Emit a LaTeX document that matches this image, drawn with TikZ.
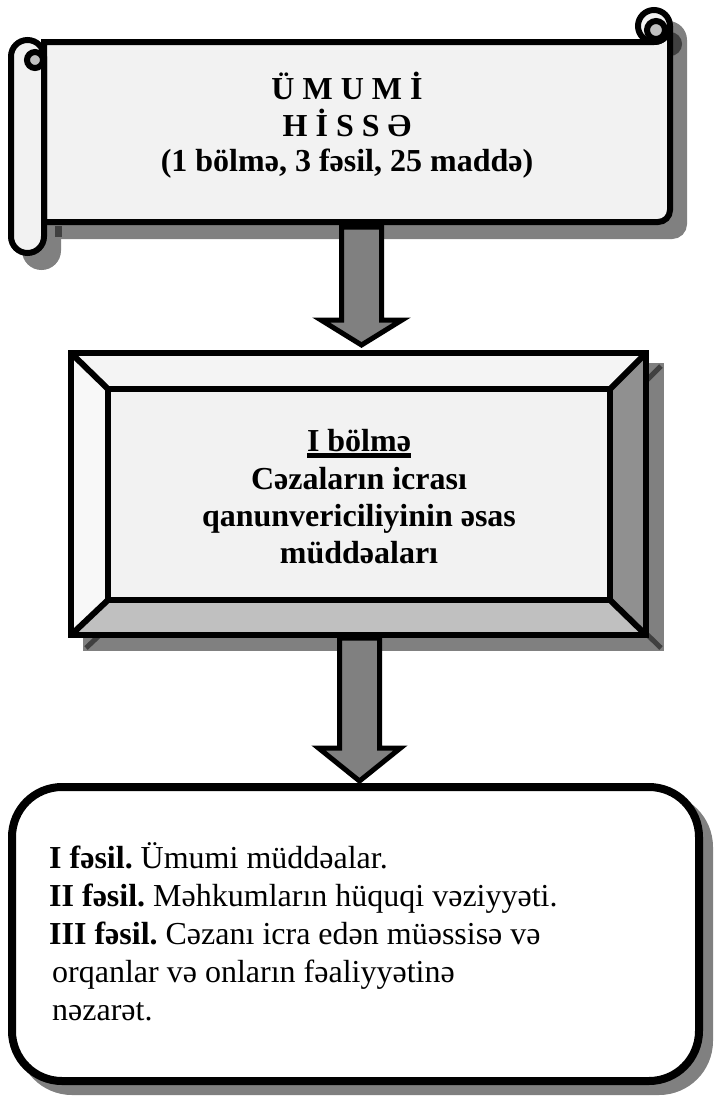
\documentclass[tikz,border=0pt]{standalone}
\usepackage{fontspec}
\setmainfont{Liberation Serif}
\frenchspacing
\definecolor{shade}{HTML}{808080}
\definecolor{paper}{HTML}{F2F2F2}
\definecolor{knob}{HTML}{C0C0C0}
\definecolor{deep}{HTML}{404040}
\definecolor{bevR}{HTML}{909090}
\definecolor{bevB}{HTML}{C0C0C0}
\definecolor{bevL}{HTML}{F8F8F8}
\definecolor{bevT}{HTML}{F4F4F4}
\begin{document}
\begin{tikzpicture}[x=1pt,y=-1pt,line join=miter,
  outl/.style={draw=black,line width=6pt},
  shad/.style={fill=shade,draw=shade,line width=6pt},
  txt/.style={inner sep=0pt,font=\fontsize{32}{38}\selectfont},
  blockarrow/.style={fill=shade,draw=black,line width=5pt,line join=miter}]
\useasboundingbox (0,0) rectangle (715,1096);

% ---------- scroll: shadow ----------
\begin{scope}[shift={(14,14)}]
  \path[shad] (44,42) -- (654,42) arc (90:0:16) -- (670,210) arc (0:90:12) -- (44,222) -- cycle;
  \path[shad] (654,26) circle (16);
  \path[shad,rounded corners=16.5pt] (11,40) rectangle (44,253);
  \path[fill=deep,draw=deep,line width=6pt] (656,30) circle (9);
\end{scope}
\fill[deep] (55,226) rectangle (62,237);

% ---------- scroll ----------
\path[outl,fill=paper] (44,42) -- (654,42) arc (90:0:16) -- (670,210) arc (0:90:12) -- (44,222) -- cycle;
\path[outl,fill=paper] (654,26) circle (16);
\path[outl,fill=knob] (656,30) circle (9);
\path[outl,fill=paper,rounded corners=16.5pt] (11,40) rectangle (44,253);
\path[outl,fill=knob] (35,60) circle (8);
\node[txt,anchor=base] (h1) at (347,99) {\bfseries Ü M U M İ};
\node[txt,anchor=base] (h2) at (347,136) {\bfseries H İ S S Ə};
\node[txt,anchor=base] (h3) at (347,171) {\bfseries (1 bölmə, 3 fəsil, 25 maddə)};

% ---------- bevel box: shadow ----------
\begin{scope}[shift={(15,13)}]
  \path[shad] (71,353) rectangle (646,635);
  \draw[deep,line width=5pt] (646,353) -- (610,389) (646,635) -- (610,600) (71,635) -- (108,600);
\end{scope}

% ---------- arrow 1 ----------
\coordinate (a1tip) at (361.5,345);
\path[blockarrow] (341.5,227) -- (381.5,227) -- (381.5,320) -- (402,320) -- (a1tip) -- (321,320) -- (341.5,320) -- cycle;

% ---------- bevel box ----------
\fill[bevT] (71,353) -- (646,353) -- (610,389) -- (108,389) -- cycle;
\fill[bevL] (71,353) -- (108,389) -- (108,600) -- (71,635) -- cycle;
\fill[bevR] (646,353) -- (646,635) -- (610,600) -- (610,389) -- cycle;
\fill[bevB] (71,635) -- (646,635) -- (610,600) -- (108,600) -- cycle;
\draw[line width=6pt,line cap=butt] (71,353) -- (108,389) (646,353) -- (610,389) (646,635) -- (610,600) (71,635) -- (108,600);
\node[draw=black,line width=6pt,inner sep=0pt,minimum width=575pt,minimum height=282pt] (secframe) at (358.5,494) {};
\node[outl,fill=paper,inner sep=0pt,minimum width=502pt,minimum height=211pt] (sec) at (359,494.5) {};
\node[txt,anchor=base] (m1) at (359,451) {\bfseries I bölmə};
\draw[line width=4.5pt] ([yshift=-4.5pt]m1.base west) -- ([yshift=-4.5pt]m1.base east);
\node[txt,anchor=base] (m2) at (359,489) {\bfseries Cəzaların icrası};
\node[txt,anchor=base] (m3) at (359,526) {\bfseries qanunvericiliyinin əsas};
\node[txt,anchor=base] (m4) at (359,563) {\bfseries müddəaları};

% ---------- bottom box ----------
\node[fill=shade,draw=shade,line width=8pt,rounded corners=50pt,inner sep=0pt,minimum width=687pt,minimum height=294pt] (chsh) at (365.5,944) {};
\node[fill=white,draw=black,line width=8pt,rounded corners=50pt,inner sep=0pt,minimum width=687pt,minimum height=294pt] (ch) at (355.5,934) {};

% ---------- arrow 2 ----------
\coordinate (a2tip) at (359.5,781);
\path[blockarrow] (339.5,638) -- (379.5,638) -- (379.5,748) -- (400.5,748) -- (a2tip) -- (318.5,748) -- (339.5,748) -- cycle;

\node[txt,anchor=base west] (c1) at (49,868) {\textbf{I fəsil.} Ümumi müddəalar.};
\node[txt,anchor=base west] (c2) at (49,906) {\textbf{II fəsil.} Məhkumların hüquqi vəziyyəti.};
\node[txt,anchor=base west] (c3) at (49,944) {\textbf{III fəsil.} Cəzanı icra edən müəssisə və};
\node[txt,anchor=base west] (c4) at (52,982) {orqanlar və onların fəaliyyətinə};
\node[txt,anchor=base west] (c5) at (52,1020) {nəzarət.};
\end{tikzpicture}
\end{document}
